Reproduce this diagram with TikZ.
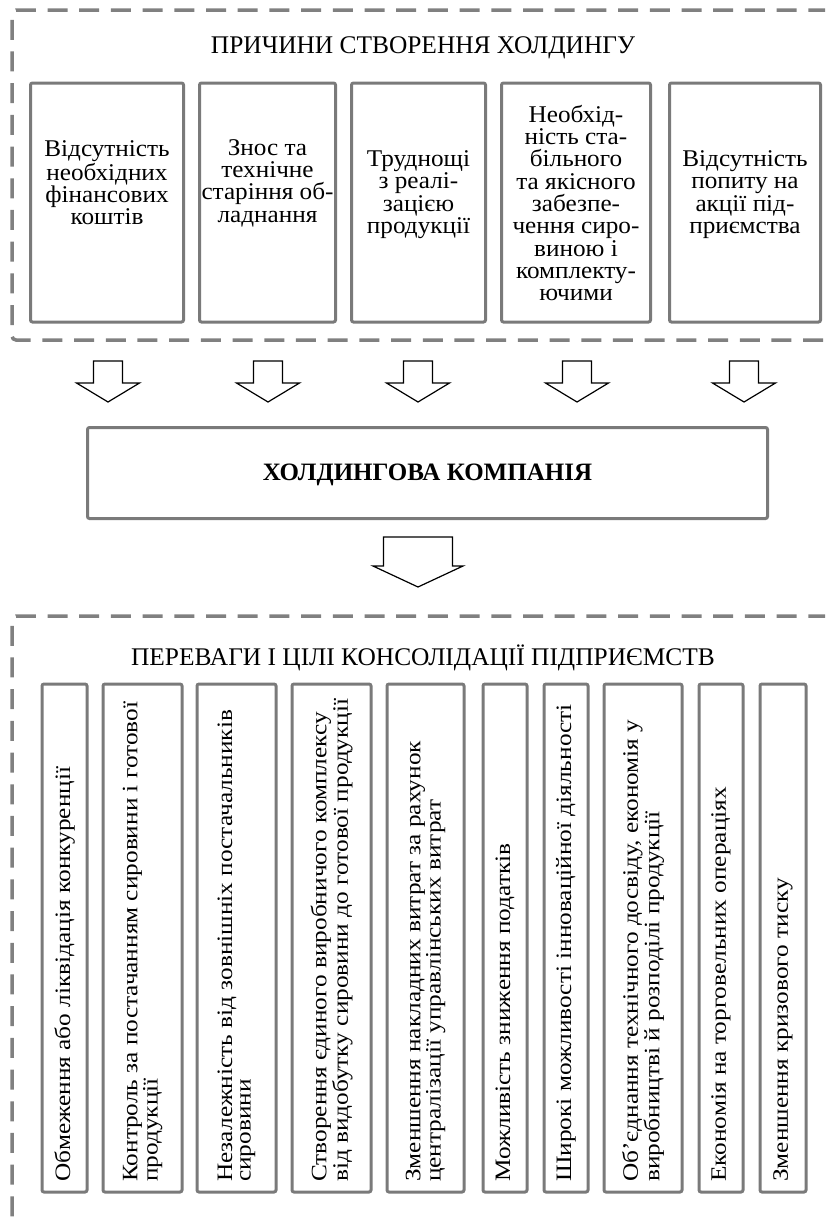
\documentclass[tikz,border=0pt]{standalone}
\usepackage{fontspec}
\setmainfont{Liberation Serif}
\newfontfamily\reasonfont[FakeStretch=1.05]{Liberation Serif}
\newfontfamily\goalfont[FakeStretch=1.15]{Liberation Serif}
\begin{document}
\begin{tikzpicture}[x=1pt,y=-1pt,
  framedash/.style={draw=black!50, line width=3.5pt, dash pattern=on 20pt off 11.7pt, rounded corners=4pt},
  boxline/.style={draw=black!52, line width=3pt, rounded corners=2pt, inner sep=0pt},
  blockarrow/.style={draw=black, line width=1.2pt, fill=white, line join=miter},
  titletext/.style={inner sep=0pt, anchor=base, font=\fontsize{25.4}{28}\selectfont},
  reasontext/.style={inner sep=0pt, align=center, font=\reasonfont\fontsize{24}{22.3}\selectfont},
  goaltext/.style={inner sep=0pt, rotate=90, anchor=west, align=left, font=\goalfont\fontsize{22}{18.5}\selectfont},
  pics/downarrow/.style args={#1/#2/#3/#4}{code={
    \draw[blockarrow] (-#1,0) -- (#1,0) -- (#1,#3) -- (#2,#3) -- (0,#4) -- (-#2,#3) -- (-#1,#3) -- cycle;
  }}
]
\useasboundingbox (0,0) rectangle (825,1218);
\clip (0,0) rectangle (825,1218);

% dashed frames (open to the right and at the bottom)
\draw[framedash] (860,10) -- (12,10) -- (12,340) -- (860,340);
\draw[framedash] (860,616) -- (12,616) -- (12,1260);

% ---- reasons ----
\node[titletext] (reasons) at (423,53) {ПРИЧИНИ СТВОРЕННЯ ХОЛДИНГУ};

\node[boxline, minimum width=153pt, minimum height=239pt] (r1) at (107,202.5) {};
\node[boxline, minimum width=136pt, minimum height=239pt] (r2) at (267.5,202.5) {};
\node[boxline, minimum width=134pt, minimum height=239pt] (r3) at (418.5,202.5) {};
\node[boxline, minimum width=149pt, minimum height=239pt] (r4) at (576,202.5) {};
\node[boxline, minimum width=151pt, minimum height=239pt] (r5) at (745,202.5) {};

\node[reasontext] (r1t) at (107,183) {Відсутність\\необхідних\\фінансових\\коштів};
\node[reasontext] (r2t) at (267.5,183) {Знос та\\технічне\\старіння об-\\ладнання};
\node[reasontext] (r3t) at (418.5,194.5) {Труднощі\\з реалі-\\зацією\\продукції};
\node[reasontext] (r4t) at (576,203) {Необхід-\\ність ста-\\більного\\та якісного\\забезпе-\\чення сиро-\\виною і\\комплекту-\\ючими};
\node[reasontext] (r5t) at (745,194.5) {Відсутність\\попиту на\\акції під-\\приємства};

% ---- arrows into the holding ----
\pic at (108,361) {downarrow=14.5/31.5/22/41};
\pic at (268,361) {downarrow=14.5/31.5/22/41};
\pic at (418,361) {downarrow=14.5/31.5/22/41};
\pic at (577,361) {downarrow=14.5/31.5/22/41};
\pic at (744,361) {downarrow=14.5/31.5/22/41};

% ---- holding company ----
\node[boxline, minimum width=680pt, minimum height=91pt] (hold) at (427.5,473) {};
\node[inner sep=0pt, anchor=base, font=\bfseries\fontsize{25}{28}\selectfont] (holdt) at (427.5,480) {ХОЛДИНГОВА КОМПАНІЯ};

\pic at (418,537) {downarrow=34.5/45/29/50};

% ---- advantages and goals ----
\node[titletext] (goals) at (423,665) {ПЕРЕВАГИ І ЦІЛІ КОНСОЛІДАЦІЇ ПІДПРИЄМСТВ};

\node[boxline, minimum width=45pt, minimum height=508pt] (g1) at (64.5,938) {};
\node[boxline, minimum width=79pt, minimum height=508pt] (g2) at (142.5,938) {};
\node[boxline, minimum width=79pt, minimum height=508pt] (g3) at (236.5,938) {};
\node[boxline, minimum width=79pt, minimum height=508pt] (g4) at (331.5,938) {};
\node[boxline, minimum width=77pt, minimum height=508pt] (g5) at (425.5,938) {};
\node[boxline, minimum width=44pt, minimum height=508pt] (g6) at (505,938) {};
\node[boxline, minimum width=44pt, minimum height=508pt] (g7) at (566,938) {};
\node[boxline, minimum width=78pt, minimum height=508pt] (g8) at (643,938) {};
\node[boxline, minimum width=44pt, minimum height=508pt] (g9) at (721,938) {};
\node[boxline, minimum width=46pt, minimum height=508pt] (g10) at (783,938) {};

\node[goaltext] (g1t) at (64.5,1182) {Обмеження або ліквідація конкуренції};
\node[goaltext] (g2t) at (142.5,1182) {Контроль за постачанням сировини і готової\\продукції};
\node[goaltext] (g3t) at (236.5,1182) {Незалежність від зовнішніх постачальників\\сировини};
\node[goaltext] (g4t) at (331.5,1182) {Створення єдиного виробничого комплексу\\від видобутку сировини до готової продукції};
\node[goaltext] (g5t) at (425.5,1182) {Зменшення накладних витрат за рахунок\\централізації управлінських витрат};
\node[goaltext] (g6t) at (505,1182) {Можливість зниження податків};
\node[goaltext] (g7t) at (566,1182) {Широкі можливості інноваційної діяльності};
\node[goaltext] (g8t) at (643,1182) {Об’єднання технічного досвіду, економія у\\виробництві й розподілі продукції};
\node[goaltext] (g9t) at (721,1182) {Економія на торговельних операціях};
\node[goaltext] (g10t) at (783,1182) {Зменшення кризового тиску};
\end{tikzpicture}
\end{document}
